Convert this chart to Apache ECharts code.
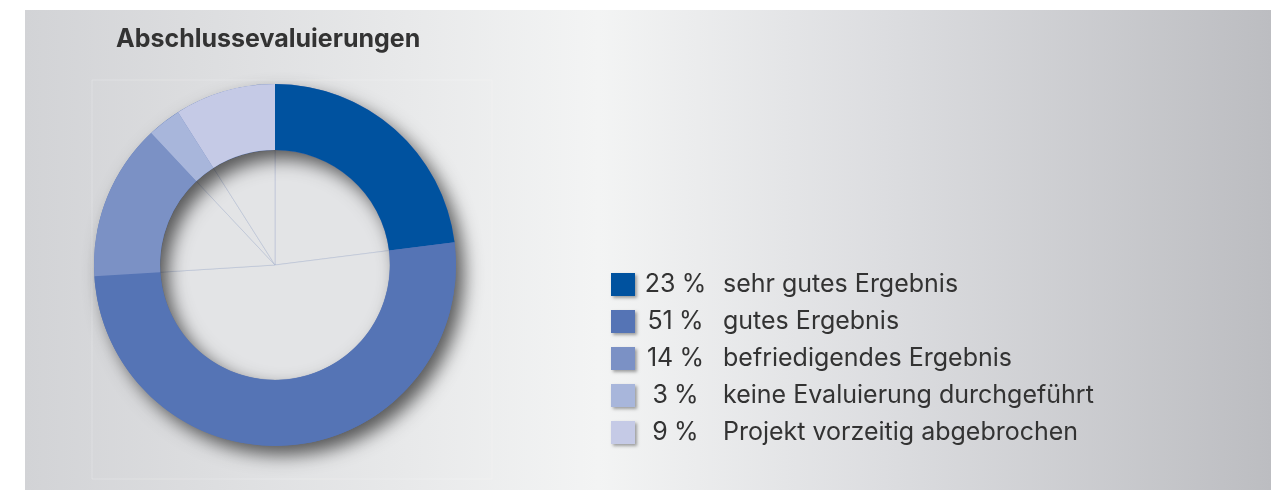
<!DOCTYPE html>
<html>
<head>
<meta charset="utf-8">
<script src="https://cdn.jsdelivr.net/npm/echarts@6/dist/echarts.min.js"></script>
<style>
  html, body { margin: 0; padding: 0; background: #fff; }
  #chart { width: 1271px; height: 490px; }
</style>
</head>
<body>
<div id="chart"></div>
<script>
const categories = [
  'sehr gutes Ergebnis',
  'gutes Ergebnis',
  'befriedigendes Ergebnis',
  'keine Evaluierung durchgeführt',
  'Projekt vorzeitig abgebrochen'
];
const shares = [23, 51, 14, 3, 9];
const colors = ['#00529f', '#5574b5', '#7b91c5', '#a8b6db', '#c5cae6'];

const center = [275, 265];
const font = 'Inter';

const chart = echarts.init(document.getElementById('chart'));

chart.setOption({
  animation: false,
  textStyle: {fontFamily: font},
  title: {
    text: 'Abschlussevaluierungen',
    left: 111,
    top: 22,
    textStyle: {fontSize: 25, fontWeight: 'bold', color: '#333', fontFamily: font}
  },
  graphic: [{
    type: 'rect',
    z: -10,
    shape: {x: 25, y: 10, width: 1246, height: 480},
    style: {
      fill: new echarts.graphic.LinearGradient(0, 0, 1, 0, [
        {offset: 0, color: '#d2d3d6'},
        {offset: 0.46, color: '#f3f4f4'},
        {offset: 0.69, color: '#dcdde0'},
        {offset: 1, color: '#bcbdc1'}
      ])
    }
  }, {
    type: 'rect',
    z: -9,
    shape: {x: 92, y: 80, width: 400, height: 399},
    style: {fill: 'none', stroke: 'rgba(255,255,255,0.22)', lineWidth: 1}
  }],
  legend: {
    orient: 'vertical',
    left: 606,
    top: 267,
    icon: 'rect',
    itemWidth: 24,
    itemHeight: 23,
    itemGap: 12,
    data: categories,
    itemStyle: {
      shadowBlur: 3,
      shadowOffsetX: 2,
      shadowOffsetY: 2,
      shadowColor: 'rgba(0,0,0,0.35)'
    },
    formatter: name => {
      const v = shares[categories.indexOf(name)];
      return `{p|${v}\u2005%}{n|${name}}`;
    },
    textStyle: {
      rich: {
        p: {width: 71, align: 'right', fontSize: 25, color: '#333', fontFamily: font, lineHeight: 23},
        n: {padding: [0, 0, 0, 12], fontSize: 25, color: '#333', fontFamily: font, lineHeight: 23}
      }
    }
  },
  series: [{
    // inner disc with the faint spokes
    type: 'pie',
    z: 1,
    silent: true,
    center: center,
    radius: [0, 115],
    startAngle: 90,
    label: {show: false},
    labelLine: {show: false},
    emphasis: {disabled: true},
    itemStyle: {color: '#e3e4e6', borderColor: 'rgba(165,178,205,0.5)', borderWidth: 0.8},
    data: categories.map((c, i) => ({name: 'hole ' + i, value: shares[i]}))
  }, {
    // ring that only casts the shadow
    type: 'pie',
    z: 2,
    silent: true,
    center: center,
    radius: [115, 181],
    label: {show: false},
    labelLine: {show: false},
    emphasis: {disabled: true},
    itemStyle: {
      color: '#5574b5',
      shadowBlur: 18,
      shadowOffsetX: 8,
      shadowOffsetY: 9,
      shadowColor: 'rgba(0,0,0,0.62)'
    },
    data: [{name: 'shadow', value: 1}]
  }, {
    type: 'pie',
    z: 3,
    center: center,
    radius: [115, 181],
    startAngle: 90,
    label: {show: false},
    labelLine: {show: false},
    emphasis: {disabled: true},
    data: categories.map((c, i) => ({
      name: c,
      value: shares[i],
      itemStyle: {color: colors[i]}
    }))
  }]
});
</script>
</body>
</html>
